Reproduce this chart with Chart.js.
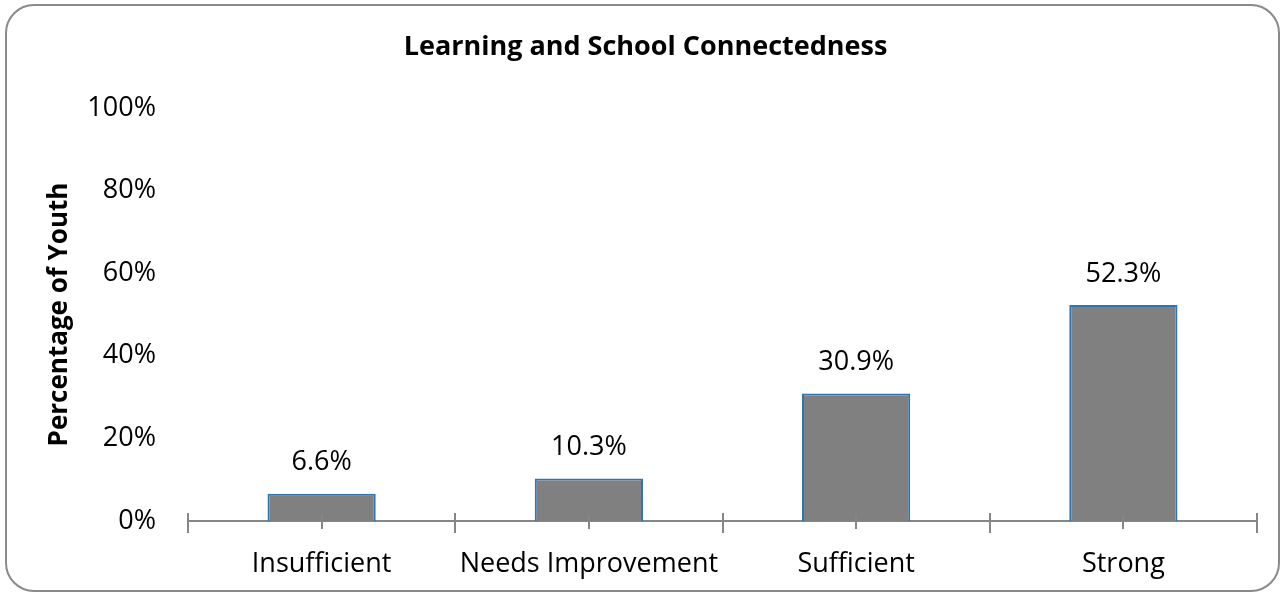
<!DOCTYPE html>
<html>
<head>
<meta charset="utf-8">
<script src="https://cdn.jsdelivr.net/npm/chart.js@4"></script>
<style>
  html, body { margin: 0; padding: 0; background: #ffffff; }
  #wrap { width: 1285px; height: 596px; }
</style>
</head>
<body>
<div id="wrap"><canvas id="c" width="1285" height="596"></canvas></div>
<script>
// Share of youth in each learning / school connectedness level (percent)
const categories = ['Insufficient', 'Needs Improvement', 'Sufficient', 'Strong'];
const shares = [6.6, 10.3, 30.9, 52.3];
const yTickValues = [0, 20, 40, 60, 80, 100];

const FONT = "'Open Sans', 'Liberation Sans', sans-serif";
const AXIS_GREY = '#868686';

// Rounded outer frame of the chart
const framePlugin = {
  id: 'frame',
  beforeDraw(chart) {
    const ctx = chart.ctx;
    ctx.save();
    ctx.fillStyle = '#ffffff';
    ctx.fillRect(0, 0, chart.width, chart.height);
    ctx.beginPath();
    ctx.roundRect(6, 5, chart.width - 12, chart.height - 10, 28);
    ctx.lineWidth = 2;
    ctx.strokeStyle = '#8a8a8a';
    ctx.stroke();
    ctx.restore();
  }
};

// Tick marks on the category axis: long ones between categories, short ones at centres
const categoryTicks = {
  id: 'categoryTicks',
  afterDatasetsDraw(chart) {
    const xs = chart.scales.x;
    const y0 = chart.scales.y.getPixelForValue(0);
    const ctx = chart.ctx;
    ctx.save();
    ctx.strokeStyle = AXIS_GREY;
    ctx.lineWidth = 2;
    ctx.beginPath();
    for (let i = 0; i <= categories.length; i++) {
      const bx = Math.round(xs.getPixelForValue(i - 0.5));
      ctx.moveTo(bx, y0 - 8);
      ctx.lineTo(bx, y0 + 12);
    }
    for (let i = 0; i < categories.length; i++) {
      const cx = Math.round(xs.getPixelForValue(i));
      ctx.moveTo(cx, y0 - 7);
      ctx.lineTo(cx, y0 + 8);
    }
    ctx.stroke();
    ctx.restore();
  }
};

// Value labels above each bar
const valueLabels = {
  id: 'valueLabels',
  afterDatasetsDraw(chart) {
    const ctx = chart.ctx;
    const meta = chart.getDatasetMeta(0);
    ctx.save();
    ctx.fillStyle = '#000000';
    ctx.font = `27px ${FONT}`;
    ctx.textAlign = 'center';
    ctx.textBaseline = 'middle';
    meta.data.forEach((bar, i) => {
      ctx.fillText(shares[i].toFixed(1) + '%', bar.x, bar.y - 31);
    });
    ctx.restore();
  }
};

new Chart(document.getElementById('c'), {
  type: 'bar',
  data: {
    labels: categories,
    datasets: [{
      data: shares,
      backgroundColor: '#808080',
      borderColor: '#2E75B6',
      borderWidth: 2,
      borderSkipped: 'bottom',
      categoryPercentage: 1.0,
      barPercentage: 0.405
    }]
  },
  options: {
    responsive: false,
    animation: false,
    devicePixelRatio: 1,
    layout: { padding: { left: 34, right: 28, top: 0, bottom: 0 } },
    plugins: {
      legend: { display: false },
      tooltip: { enabled: false },
      title: {
        display: true,
        text: 'Learning and School Connectedness',
        color: '#000000',
        font: { family: FONT, size: 27, weight: 'bold' },
        padding: { top: 31, bottom: 44.6 }
      }
    },
    scales: {
      x: {
        offset: true,
        grid: { display: false, drawTicks: false, offset: true },
        border: { display: true, color: AXIS_GREY, width: 2 },
        ticks: {
          color: '#000000',
          font: { family: FONT, size: 27 },
          padding: 27,
          maxRotation: 0,
          autoSkip: false
        },
        afterFit(scale) { scale.height = 75; }
      },
      y: {
        min: 0,
        max: 100,
        afterBuildTicks(scale) { scale.ticks = yTickValues.map(v => ({ value: v })); },
        grid: { display: false, drawTicks: false },
        border: { display: false },
        ticks: {
          color: '#000000',
          font: { family: FONT, size: 27 },
          padding: 32,
          callback: v => v + '%'
        },
        title: {
          display: true,
          text: 'Percentage of Youth',
          color: '#000000',
          font: { family: FONT, size: 26, weight: 'bold' },
          padding: { top: 10.4, bottom: 0 }
        },
        afterFit(scale) { scale.width = 154; }
      }
    }
  },
  plugins: [framePlugin, categoryTicks, valueLabels]
});
</script>
</body>
</html>
